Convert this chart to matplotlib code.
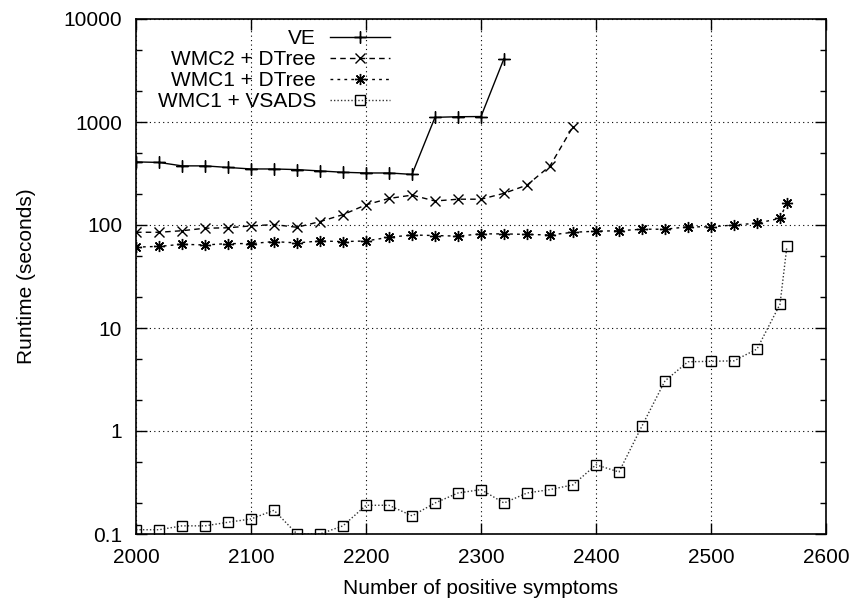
import matplotlib
matplotlib.use('Agg')
import matplotlib.pyplot as plt
from matplotlib.ticker import LogLocator, NullFormatter

plt.rcParams['font.family'] = ['Liberation Sans', 'DejaVu Sans']

# VE
ve_x = [2000, 2020, 2040, 2060, 2080, 2100, 2120, 2140, 2160, 2180, 2200, 2220, 2240,
        2260, 2280, 2300, 2320]
ve_y = [410, 405, 375, 375, 362, 350, 350, 345, 335, 325, 320, 320, 310,
        1110, 1125, 1130, 4130]

# WMC2 + DTree
wmc2_x = [2000, 2020, 2040, 2060, 2080, 2100, 2120, 2140, 2160, 2180, 2200, 2220, 2240,
          2260, 2280, 2300, 2320, 2340, 2360, 2380]
wmc2_y = [85, 85, 88, 93, 94, 98, 101, 95, 108, 126, 157, 181, 195,
          171, 178, 178, 203, 244, 374, 902]

# WMC1 + DTree
wmc1_x = [2000, 2020, 2040, 2060, 2080, 2100, 2120, 2140, 2160, 2180, 2200, 2220, 2240,
          2260, 2280, 2300, 2320, 2340, 2360, 2380, 2400, 2420, 2440, 2460, 2480, 2500,
          2520, 2540, 2560, 2566]
wmc1_y = [61, 62, 65, 64, 66, 66, 69, 67, 70, 69, 70, 76, 80,
          79, 78, 82, 82, 81, 80, 85, 87, 88, 91, 91, 96, 96,
          100, 104, 116, 165]

# WMC1 + VSADS
vsads_x = [2000, 2020, 2040, 2060, 2080, 2100, 2120, 2140, 2160, 2180, 2200, 2220, 2240,
           2260, 2280, 2300, 2320, 2340, 2360, 2380, 2400, 2420, 2440, 2460, 2480, 2500,
           2520, 2540, 2560, 2566]
vsads_y = [0.11, 0.11, 0.12, 0.12, 0.13, 0.14, 0.17, 0.10, 0.10, 0.12, 0.19, 0.19, 0.15,
           0.20, 0.25, 0.27, 0.20, 0.25, 0.27, 0.30, 0.47, 0.40, 1.12, 3.07, 4.7, 4.75,
           4.8, 6.25, 17, 62]

fig = plt.figure(figsize=(8.57, 5.99), dpi=100)
ax = fig.add_axes([136 / 857, 1 - 534 / 599, 690 / 857, 515 / 599])

ax.plot(ve_x, ve_y, color='black', lw=1.0, linestyle='-', marker=(4, 2, 0),
        markersize=9, markeredgewidth=1.0, label='VE')
ax.plot(wmc2_x, wmc2_y, color='black', lw=1.0, linestyle=(0, (4, 3)), marker='x',
        markersize=7, markeredgewidth=1.0, label='WMC2 + DTree')
ax.plot(wmc1_x, wmc1_y, color='black', lw=1.0, linestyle=(0, (2, 3)), marker=(8, 2, 0),
        markersize=8, markeredgewidth=1.0, label='WMC1 + DTree')
ax.plot(vsads_x, vsads_y, color='#333333', lw=1.0, linestyle=(0, (1, 1.5)), marker='s',
        markersize=7, markerfacecolor='none', markeredgecolor='black',
        markeredgewidth=1.0, label='WMC1 + VSADS')

ax.set_yscale('log')
ax.set_xlim(2000, 2600)
ax.set_ylim(0.1, 10000)
ax.set_xticks([2000, 2100, 2200, 2300, 2400, 2500, 2600])
ax.set_yticks([0.1, 1, 10, 100, 1000, 10000])
ax.set_yticklabels(['0.1', '1', '10', '100', '1000', '10000'])
ax.yaxis.set_minor_locator(LogLocator(base=10, subs=(2, 5), numticks=20))
ax.yaxis.set_minor_formatter(NullFormatter())

ax.tick_params(which='major', direction='in', length=8, width=1.0, top=True, right=True,
               labelsize=15, pad=10)
ax.tick_params(which='minor', direction='in', length=4, width=1.0, top=True, right=True)
ax.grid(True, which='major', color='black', linestyle=(0, (1, 3)), lw=0.8)
for s in ax.spines.values():
    s.set_linewidth(1.2)

ax.set_xlabel('Number of positive symptoms', fontsize=15, labelpad=9)
ax.set_ylabel('Runtime (seconds)', fontsize=15, labelpad=20)

leg = ax.legend(loc='upper right', bbox_to_anchor=(390 / 857, 1 - 29 / 599),
                bbox_transform=fig.transFigure, frameon=False, markerfirst=False,
                fontsize=15, handlelength=2.9, handletextpad=0.65, labelspacing=0.1,
                borderpad=0, borderaxespad=0)

fig.savefig('out.png', dpi=100)
